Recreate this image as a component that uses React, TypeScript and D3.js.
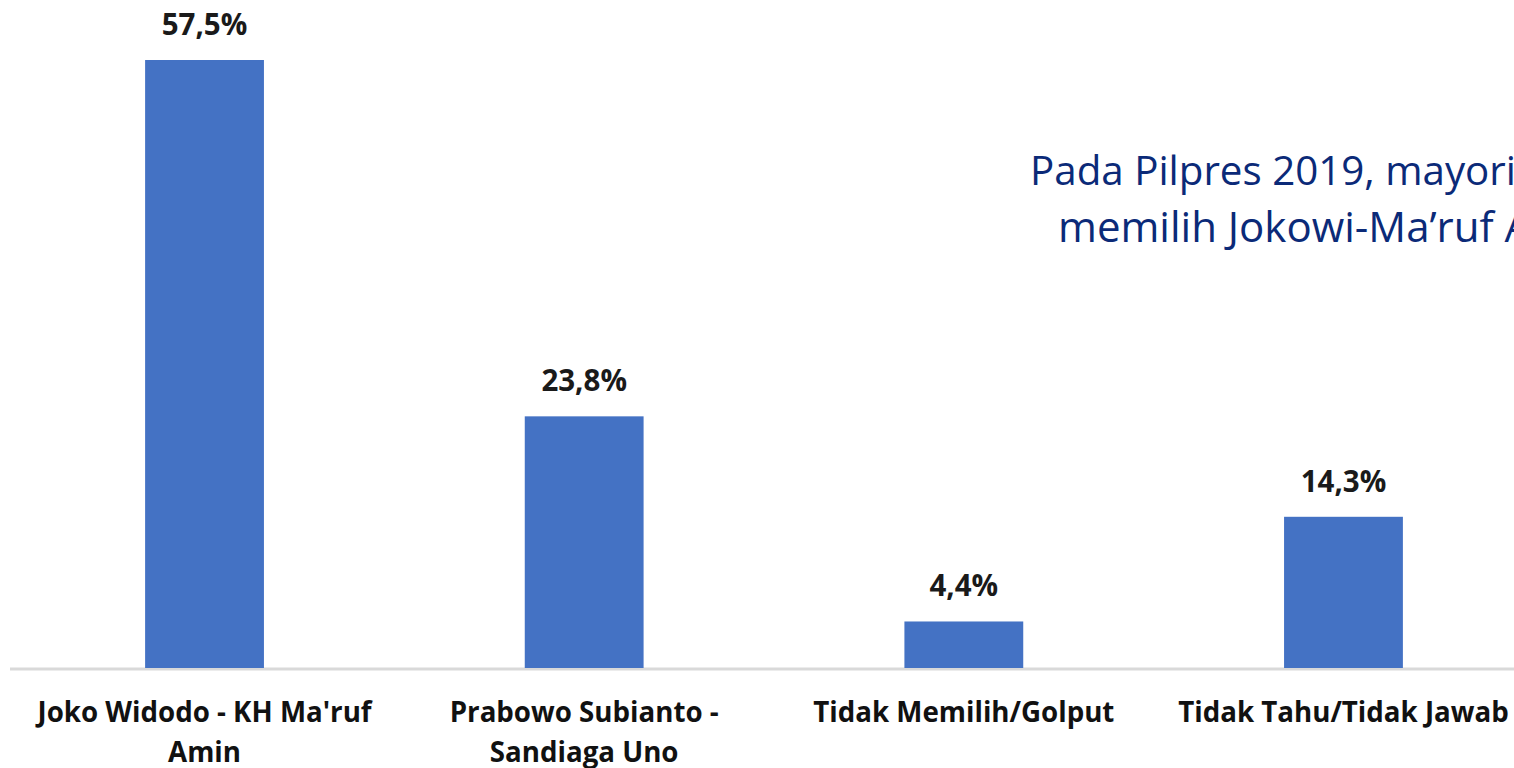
import React from "react";
import * as d3 from "d3";

const categories: string[][] = [
  ["Joko Widodo - KH Ma'ruf", "Amin"],
  ["Prabowo Subianto -", "Sandiaga Uno"],
  ["Tidak Memilih/Golput"],
  ["Tidak Tahu/Tidak Jawab"],
];
const values: number[] = [57.5, 23.8, 4.4, 14.3];
const valueLabels: string[] = ["57,5%", "23,8%", "4,4%", "14,3%"];
const noteLines: string[] = ["Pada Pilpres 2019, mayoritas responden", "memilih Jokowi-Ma\u2019ruf Amin"];

const W = 1514;
const H = 768;
const baseY = 668;

export default function App() {
  const idx = values.map((_, i) => String(i));
  const x = d3.scaleBand<string>().domain(idx).range([14.7, 1533.3]).paddingInner(0.687).paddingOuter(0.3435);
  const y = d3.scaleLinear().domain([0, 57.5]).range([baseY, 60]);
  const font = "'Open Sans', sans-serif";
  return (
    <div style={{ position: "fixed", left: 0, top: 0, width: W, height: H, background: "#fff" }}>
      <svg width={W} height={H} style={{ display: "block" }}>
        <line x1={10} x2={W} y1={baseY + 1} y2={baseY + 1} stroke="#D9D9D9" strokeWidth={3} />
        {values.map((v, i) => {
          const bx = x(String(i))!;
          const bw = x.bandwidth();
          const cx = bx + bw / 2;
          return (
            <g key={i}>
              <rect x={bx} y={y(v)} width={bw} height={baseY - y(v)} fill="#4472C4" />
              <text x={cx} y={y(v) - 25} textAnchor="middle" fontFamily={font} fontWeight={700} fontSize={29.5} fill="#1a1a1a">
                {valueLabels[i]}
              </text>
              {categories[i].map((ln, j) => (
                <text key={j} x={cx} y={722 + j * 40} textAnchor="middle" fontFamily={font} fontWeight={700} fontSize={27.7} fill="#111">
                  {ln}
                </text>
              ))}
            </g>
          );
        })}
        <text x={1030} y={185} fontFamily={font} fontSize={40.3} fill="#0B2A78">{noteLines[0]}</text>
        <text x={1058} y={242} fontFamily={font} fontSize={42} fill="#0B2A78">{noteLines[1]}</text>
      </svg>
    </div>
  );
}
